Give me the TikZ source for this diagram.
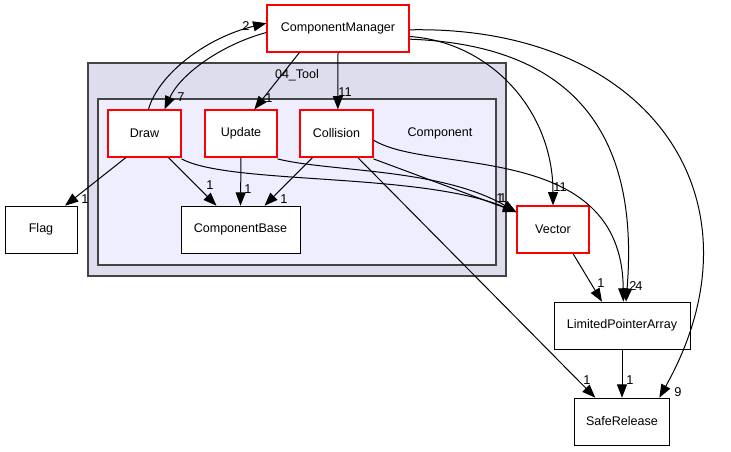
\documentclass[tikz,border=0pt]{standalone}
\usepackage{fontspec}
\setmainfont{Liberation Sans}
\usetikzlibrary{arrows.meta}

\begin{document}
\begin{tikzpicture}[x=0.75pt,y=-0.75pt,
  every node/.style={font=\fontsize{9.4}{11}\selectfont},
  dirbox/.style={draw=black,fill=white,minimum width=#1*0.75pt,minimum height=35.25pt,inner sep=0pt},
  reddir/.style={dirbox=#1,draw=red,line width=0.9pt},
  dep/.style={-{Triangle[length=10pt,width=7.5pt]},line width=0.75pt},
  cnt/.style={inner sep=0pt,font=\fontsize{9.6}{11}\selectfont}]
  \useasboundingbox (0,0) rectangle (731,452);
  % clusters
  \draw[fill={rgb,255:red,221;green,221;blue,238},draw={rgb,255:red,68;green,68;blue,68},line width=1.2pt] (88,63) rectangle (506,276);
  \node (tool) at (297,75) {04\_Tool};
  \draw[fill={rgb,255:red,238;green,238;blue,255},draw={rgb,255:red,68;green,68;blue,68},line width=1.2pt] (98,99) rectangle (496,265);
  \node (comp) at (440,133) {Component};
  % directories
  \node (mgr) at (338,28.5) [reddir=142] {ComponentManager};
  \node (draw) at (144.5,133.5) [reddir=73] {Draw};
  \node (upd) at (241,133.5) [reddir=72] {Update};
  \node (col) at (336.5,133.5) [reddir=73] {Collision};
  \node (base) at (240.5,229.5) [dirbox=119] {ComponentBase};
  \node (flag) at (41,229.5) [dirbox=72] {Flag};
  \node (vec) at (553,229.5) [reddir=72] {Vector};
  \node (lpa) at (622,325.5) [dirbox=136] {LimitedPointerArray};
  \node (safe) at (622,421.5) [dirbox=95] {SafeRelease};
  % dependencies
  \draw[dep] ([xshift=3pt]draw.north) .. controls (158,75) and (205,38) .. ([yshift=4pt]mgr.west);
  \draw[dep] ([yshift=-3pt]mgr.west) .. controls (220,45) and (180,75) .. ([xshift=15pt]draw.north);
  \draw[dep] (mgr.south west) ++(33,0) -- ([xshift=10pt]upd.north);
  \draw[dep] (mgr.south) -- ([xshift=1pt]col.north);
  \draw[dep] ([yshift=-6pt]mgr.east) .. controls (490,42) and (553,110) .. (vec.north);
  \draw[dep] ([yshift=-8pt]mgr.east) .. controls (570,45) and (640,130) .. ([xshift=3pt]lpa.north);
  \draw[dep] ([yshift=-1pt]mgr.east) .. controls (650,25) and (770,200) .. ([xshift=28pt]safe.north);
  \draw[dep] ([xshift=-14pt]draw.south) -- ([xshift=18pt]flag.north);
  \draw[dep] ([xshift=18pt]draw.south) -- ([xshift=-18pt]base.north);
  \draw[dep] ([yshift=-1pt]draw.south east) .. controls (230,185) and (420,172) .. ([yshift=-5pt]vec.north west);
  \draw[dep] (upd.south) -- (base.north);
  \draw[dep] ([yshift=-1pt]upd.south east) .. controls (330,172) and (440,168) .. ([yshift=-5pt]vec.north west);
  \draw[dep] ([xshift=-18pt]col.south) -- ([xshift=18pt]base.north);
  \draw[dep] ([yshift=-1pt]col.south east) -- ([yshift=-5pt]vec.north west);
  \draw[dep] ([yshift=-5pt]col.east) .. controls (430,175) and (622,140) .. ([xshift=1pt]lpa.north);
  \draw[dep] ([xshift=16pt]col.south) -- ([xshift=-20pt]safe.north);
  \draw[dep] ([xshift=15pt]vec.south) -- ([xshift=-15pt]lpa.north);
  \draw[dep] (lpa.south) -- (safe.north);
  % counts
  \node[cnt] (c1) at (246,26) {2};
  \node[cnt] (c2) at (181,97) {7};
  \node[cnt] (c3) at (269,98) {1};
  \node[cnt] (c4) at (345,92) {11};
  \node[cnt] (c5) at (560,187) {11};
  \node[cnt] (c6) at (500,198) {1};
  \node[cnt] (c7) at (503,198) {1};
  \node[cnt] (c8) at (633,286) {2};
  \node[cnt] (c9) at (639,286) {4};
  \node[cnt] (c10) at (678,392) {9};
  \node[cnt] (c11) at (85,199) {1};
  \node[cnt] (c12) at (210,185) {1};
  \node[cnt] (c13) at (248,189) {1};
  \node[cnt] (c14) at (284,199) {1};
  \node[cnt] (c15) at (601,283) {1};
  \node[cnt] (c16) at (587,380) {1};
  \node[cnt] (c17) at (630,380) {1};
\end{tikzpicture}
\end{document}
